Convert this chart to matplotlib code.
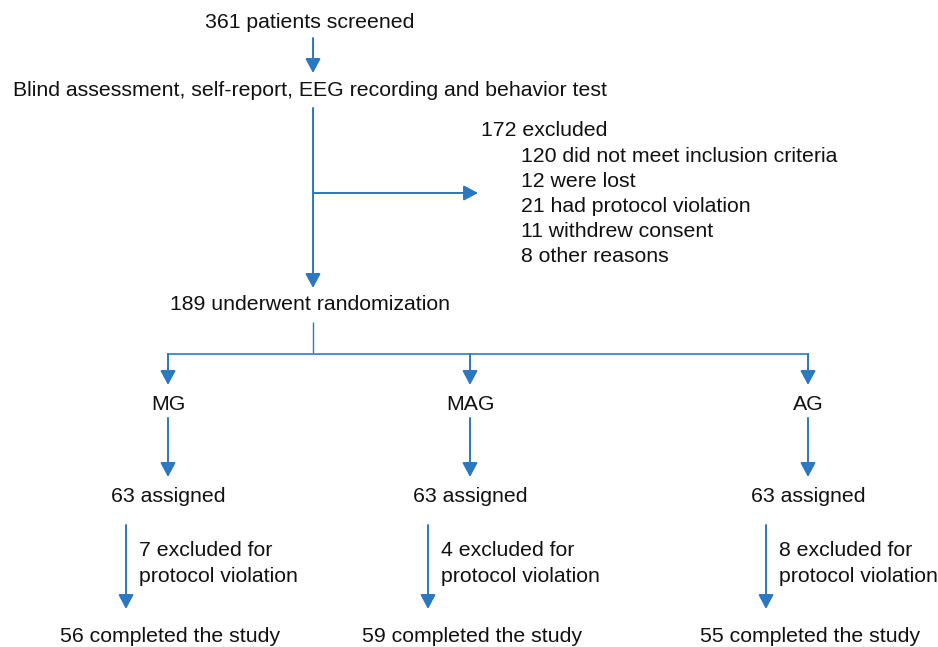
import matplotlib
matplotlib.use("Agg")
import matplotlib.pyplot as plt

plt.rcParams['font.family'] = ['Liberation Sans', 'DejaVu Sans']

BLUE = '#2a78c2'

top_steps = ["361 patients screened",
             "Blind assessment, self-report, EEG recording and behavior test",
             "189 underwent randomization"]
excluded_title = "172 excluded"
excluded_reasons = ["120 did not meet inclusion criteria",
                    "12 were lost",
                    "21 had protocol violation",
                    "11 withdrew consent",
                    "8 other reasons"]
groups = ["MG", "MAG", "AG"]
assigned = [63, 63, 63]
excluded_group = [7, 4, 8]
completed = [56, 59, 55]

W, H = 938, 647
fig = plt.figure(figsize=(W / 100, H / 100), dpi=100)
ax = fig.add_axes([0, 0, 1, 1])
ax.set_xlim(0, W)
ax.set_ylim(H, 0)
ax.axis('off')

FS = 15.3
LW = 1.4
DY = 2


def arrow(x0, y0, x1, y1):
    ax.annotate('', xy=(x1, y1), xytext=(x0, y0),
                arrowprops=dict(arrowstyle='-|>,head_length=0.86,head_width=0.46',
                                color=BLUE, lw=LW, shrinkA=0, shrinkB=0,
                                mutation_scale=10))


def line(xs, ys, lw=LW, color=BLUE):
    ax.plot(xs, ys, color=color, lw=lw, solid_capstyle='butt')


def txt(x, y, s, ha='center'):
    ax.text(x, y + DY, s, ha=ha, va='center', fontsize=FS, color='#111111')


cx = 313
txt(310, 20, top_steps[0])
arrow(cx, 38, cx, 73)
txt(310, 89, top_steps[1])
arrow(cx, 108, cx, 288)
arrow(cx, 193, 478, 193)
txt(481, 129, excluded_title, ha='left')
for i, r in enumerate(excluded_reasons):
    txt(521, 154 + i * 25.2, r, ha='left')
txt(310, 302, top_steps[2])

gx = [168, 470, 808]
line([cx, cx], [322, 354], lw=1.0)
line([gx[0] - 0.7, gx[-1] + 0.7], [354, 354], color='#4a90d0')
for i, g in enumerate(groups):
    x = gx[i]
    arrow(x, 354, x, 385)
    txt(x, 402, g)
    arrow(x, 418, x, 477)
    txt(x, 495, f"{assigned[i]} assigned")
    ax_ = x - 42
    arrow(ax_, 525, ax_, 609)
    txt(ax_ + 13, 549, f"{excluded_group[i]} excluded for", ha='left')
    txt(ax_ + 13, 575, "protocol violation", ha='left')
    txt(x + 2, 635, f"{completed[i]} completed the study")

fig.savefig('out.png', dpi=100)
